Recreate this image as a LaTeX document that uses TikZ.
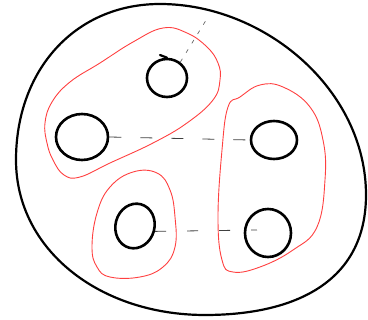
\documentclass[tikz,border=0pt]{standalone}
\usetikzlibrary{shapes.geometric}

\tikzset{
    surface outline/.style={
      draw=black,
      line width=2.2pt,
      line join=round
    },
    hole/.style={
      ellipse,
      draw=black,
      line width=2.6pt,
      inner sep=0pt
    },
    group loop/.style={
      draw=red!75,
      line width=0.9pt
    },
    cut line/.style={
      draw=black!75,
      line width=0.8pt,
      dash pattern=on 12pt off 19pt
    },
    cut line short/.style={
      draw=black!60,
      line width=0.7pt,
      dash pattern=on 4pt off 7pt
    }
  }

\begin{document}
\begin{tikzpicture}[x=1pt,y=-1pt]
      \useasboundingbox (0,0) rectangle (368,320);

      % 外側
      \draw[surface outline] (160,4)
        .. controls (265,4) and (366,90) .. (366,195)
        .. controls (366,282) and (295,315) .. (205,315)
        .. controls (100,315) and (16,250) .. (16,160)
        .. controls (16,70) and (75,4) .. cycle;

      % 穴
      \node[hole, minimum width=40pt, minimum height=38pt] (h1) at (167,78) {};
      \node[hole, minimum width=52pt, minimum height=46pt] (h2) at (82,137) {};
      \node[hole, minimum width=46pt, minimum height=38pt] (h3) at (274,140) {};
      \node[hole, minimum width=39pt, minimum height=45pt, rotate=-15] (h4) at (135,226) {};
      \node[hole, minimum width=46pt, minimum height=48pt] (h5) at (268,233) {};
      \draw[black, line width=2.2pt, line cap=round] (h1.north) .. controls (164,57) .. (160,55);

      % 赤い輪
      \draw[group loop] plot[smooth cycle, tension=0.7] coordinates {
        (163,28) (187,33) (207,47) (218,63) (220,80) (213,100) (187,123)
        (153,143) (110,163) (80,177) (64,175) (53,160) (47,143) (45,123)
        (52,102) (70,82) (100,63) (133,42)};
      \draw[group loop] plot[smooth cycle, tension=0.7] coordinates {
        (240,97) (260,85) (283,87) (310,107) (323,140) (325,180) (317,227)
        (293,250) (260,267) (233,272) (222,260) (218,217) (222,150) (228,107)};
      \draw[group loop] plot[smooth cycle, tension=0.7] coordinates {
        (157,173) (170,190) (175,217) (175,247) (163,267) (140,277)
        (110,277) (97,267) (92,247) (97,213) (110,187) (133,172)};

      % 切れ目
      \coordinate (rim) at (208,17);
      \coordinate (h5in) at (257,230);
      \draw[cut line short] (h1.50) -- (rim);
      \draw[cut line] (h2.east) -- (h3.west);
      \draw[cut line, dash pattern=on 11pt off 21pt] (h4.east) -- (h5in);
    \end{tikzpicture}
\end{document}
